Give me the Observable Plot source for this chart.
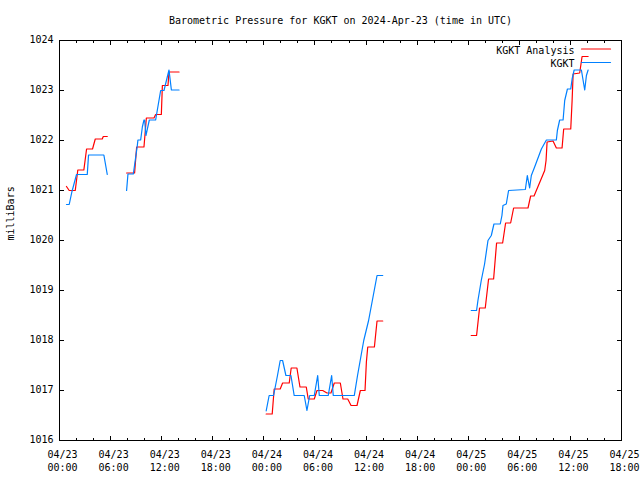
<!DOCTYPE html>
<html>
<head>
<meta charset="utf-8">
<script src="https://cdn.jsdelivr.net/npm/d3@7"></script>
<script src="https://cdn.jsdelivr.net/npm/@observablehq/plot@0.6"></script>
<style>
  html, body { margin: 0; padding: 0; background: #ffffff; }
</style>
</head>
<body>
<div id="chart"></div>
<script>
// ---------------- data ----------------
const title = "Barometric Pressure for KGKT on 2024-Apr-23 (time in UTC)";
const yLabel = "milliBars";
const seriesNames = ["KGKT Analysis", "KGKT"];
const seriesColors = ["#ff0000", "#0080ff"];

// hours since 2024-04-23 00:00 UTC; null separates gaps
const analysisHours = [
  0.82, 1.14, 1.85, 2.15, 2.86, 3.18, 3.88, 4.2, 5.02, 5.14, 5.61, null,
  7.88, 8.82, 9.06, 9.92, 10.2, 11.1, 11.29, 11.96, 12.08, 12.74, 12.86, 14.04, null,
  24.27, 24.98, 25.21, 25.92, 26.2, 26.98, 27.21, 27.88, 28.24, 28.98, 29.21, 29.92, 30.24, 30.91,
  31.41, 31.88, 32.27, 32.98, 33.29, 33.85, 34.24, 34.94, 35.33, 35.88, 36.04, 36.2, 36.98, 37.29, 37.96, null,
  48.35, 48.98, 49.33, 50.0, 50.39, 50.98, 51.33, 52.04, 52.39, 52.98, 53.33, 55.02, 55.33, 55.73,
  56.98, 57.14, 57.26, 57.96, 58.35, 59.02, 59.21, 60.04, 60.2, 60.32, 61.09, 61.37, 62.08
];
const analysisPressure = [
  1021.08, 1021.0, 1021.0, 1021.41, 1021.41, 1021.83, 1021.83, 1022.03, 1022.03, 1022.08, 1022.08, null,
  1021.35, 1021.35, 1021.87, 1021.87, 1022.45, 1022.45, 1022.52, 1022.52, 1023.1, 1023.1, 1023.37, 1023.37, null,
  1016.53, 1016.53, 1017.03, 1017.03, 1017.15, 1017.15, 1017.45, 1017.45, 1017.07, 1017.07, 1016.83, 1016.83, 1017.0, 1017.0,
  1016.95, 1016.95, 1017.15, 1017.15, 1016.83, 1016.83, 1016.7, 1016.7, 1017.0, 1017.0, 1017.57, 1017.87, 1017.87, 1018.39, 1018.39, null,
  1018.1, 1018.1, 1018.65, 1018.65, 1019.23, 1019.23, 1019.95, 1019.95, 1020.35, 1020.35, 1020.65, 1020.65, 1020.89, 1020.89,
  1021.4, 1021.6, 1021.97, 1021.99, 1021.85, 1021.85, 1022.23, 1022.23, 1022.8, 1023.33, 1023.35, 1023.68, 1023.68
];

const kgktHours = [
  0.82, 1.14, 1.45, 2.0, 3.26, 3.41, 5.21, 5.61, null,
  7.88, 8.04, 8.67, 9.14, 9.21, 9.53, 9.73, 9.92, 10.0, 10.15, 10.55, 11.29, 11.88, 12.27, 12.86, 13.14, 14.04, null,
  24.27, 24.62, 25.14, 25.6, 25.92, 26.2, 26.59, 27.18, 27.56, 28.74, 29.06, 29.38, 29.92, 30.32, 30.51, 31.56,
  31.96, 32.15, 34.62, 35.0, 35.73, 36.3, 37.29, 37.96, null,
  48.35, 48.98, 49.14, 49.53, 49.92, 50.32, 50.71, 51.02, 51.76, 51.96, 52.08, 52.47, 52.74, 54.71, 54.94, 55.21,
  55.41, 55.8, 56.59, 57.18, 58.35, 58.47, 58.74, 59.14, 59.33, 59.65, 60.04, 60.2, 60.44, 61.29, 61.68, 61.88, 62.08
];
const kgktPressure = [
  1020.72, 1020.72, 1020.97, 1021.32, 1021.32, 1021.71, 1021.71, 1021.32, null,
  1021.0, 1021.33, 1021.33, 1021.9, 1022.01, 1022.01, 1022.27, 1022.41, 1022.41, 1022.1, 1022.41, 1022.41, 1023.0, 1023.0, 1023.41, 1023.01, 1023.01, null,
  1016.59, 1016.9, 1016.9, 1017.3, 1017.6, 1017.6, 1017.3, 1017.3, 1016.9, 1016.9, 1016.6, 1016.9, 1016.9, 1017.3, 1016.9, 1016.9,
  1017.3, 1016.9, 1016.9, 1017.3, 1018.0, 1018.4, 1019.3, 1019.3, null,
  1018.6, 1018.6, 1018.8, 1019.2, 1019.53, 1020.0, 1020.1, 1020.33, 1020.33, 1020.5, 1020.7, 1020.73, 1021.0, 1021.02, 1021.3, 1021.05,
  1021.3, 1021.47, 1021.83, 1022.01, 1022.01, 1022.2, 1022.41, 1022.41, 1022.8, 1023.03, 1023.03, 1023.23, 1023.41, 1023.41, 1023.01, 1023.3, 1023.41
];

const xTickHours = [0, 6, 12, 18, 24, 30, 36, 42, 48, 54, 60, 66];
const xTickLabels = [
  "04/23\n00:00", "04/23\n06:00", "04/23\n12:00", "04/23\n18:00",
  "04/24\n00:00", "04/24\n06:00", "04/24\n12:00", "04/24\n18:00",
  "04/25\n00:00", "04/25\n06:00", "04/25\n12:00", "04/25\n18:00"
];
const xMinorHours = [2, 4, 8, 10, 14, 16, 20, 22, 26, 28, 32, 34, 38, 40, 44, 46, 50, 52, 56, 58, 62, 64];
const yTicks = [1016, 1017, 1018, 1019, 1020, 1021, 1022, 1023, 1024];

// ---------------- build ----------------
const t0 = Date.UTC(2024, 3, 23, 0, 0);
const toDate = (h) => new Date(t0 + h * 3600000);
const rows = (hours, pres) => hours.map((h, i) => ({t: h == null ? null : toDate(h), p: pres[i]}));
const analysis = rows(analysisHours, analysisPressure);
const kgkt = rows(kgktHours, kgktPressure);

const lineShape = {draw(context, l) { context.moveTo(0, 0); context.lineTo(0, -l); }};
const tickOpts = {anchor: "start", shape: lineShape, stroke: "#000", strokeWidth: 1, shapeRendering: "crispEdges"};

const chart = Plot.plot({
  width: 640,
  height: 480,
  marginLeft: 59,
  marginRight: 19,
  marginTop: 40,
  marginBottom: 40,
  x: {type: "utc", domain: [toDate(xTickHours[0]), toDate(xTickHours[xTickHours.length - 1])], axis: null},
  y: {domain: [yTicks[0], yTicks[yTicks.length - 1]], axis: null},
  style: {fontFamily: "'DejaVu Sans Mono', monospace", fontSize: "10px", background: "#ffffff", color: "#000000"},
  marks: [
    Plot.line(analysis, {x: "t", y: "p", stroke: seriesColors[0], strokeWidth: 1.2}),
    Plot.line(kgkt, {x: "t", y: "p", stroke: seriesColors[1], strokeWidth: 1.2}),
    Plot.frame({stroke: "#000", shapeRendering: "crispEdges"}),
    // x ticks (bottom & top, inward)
    Plot.vector(xTickHours, {...tickOpts, x: (h) => toDate(h), frameAnchor: "bottom", rotate: 0, length: 4}),
    Plot.vector(xTickHours, {...tickOpts, x: (h) => toDate(h), frameAnchor: "top", rotate: 180, length: 4}),
    Plot.vector(xMinorHours, {...tickOpts, x: (h) => toDate(h), frameAnchor: "bottom", rotate: 0, length: 2}),
    Plot.vector(xMinorHours, {...tickOpts, x: (h) => toDate(h), frameAnchor: "top", rotate: 180, length: 2}),
    // y ticks (left & right, inward)
    Plot.vector(yTicks, {...tickOpts, y: (d) => d, frameAnchor: "left", rotate: 90, length: 4}),
    Plot.vector(yTicks, {...tickOpts, y: (d) => d, frameAnchor: "right", rotate: -90, length: 4}),
    // tick labels
    Plot.text(xTickHours, {x: (h) => toDate(h), text: (h, i) => xTickLabels[i], frameAnchor: "bottom", dy: 30, dx: 3, lineHeight: 1.3, fontSize: 10}),
    Plot.text(yTicks, {y: (d) => d, text: (d) => String(d), frameAnchor: "left", dx: -6, dy: -1, textAnchor: "end", fontSize: 10}),
    // title and axis label
    Plot.text([title], {frameAnchor: "top", dy: -23.5, fontSize: 10}),
    Plot.text([yLabel], {frameAnchor: "left", dx: -49, rotate: -90, fontSize: 10}),
    // legend
    Plot.text([seriesNames[0]], {frameAnchor: "top-right", dx: -47, dy: 6.5, textAnchor: "end", fontSize: 10}),
    Plot.text([seriesNames[1]], {frameAnchor: "top-right", dx: -47, dy: 19.5, textAnchor: "end", fontSize: 10}),
    Plot.vector([0], {anchor: "start", shape: lineShape, frameAnchor: "top-right", dx: -40, dy: 8.5, rotate: 90, length: 29, stroke: seriesColors[0], strokeWidth: 1.2}),
    Plot.vector([0], {anchor: "start", shape: lineShape, frameAnchor: "top-right", dx: -40, dy: 22, rotate: 90, length: 29, stroke: seriesColors[1], strokeWidth: 1.2})
  ]
});
document.getElementById("chart").appendChild(chart);
</script>
</body>
</html>
